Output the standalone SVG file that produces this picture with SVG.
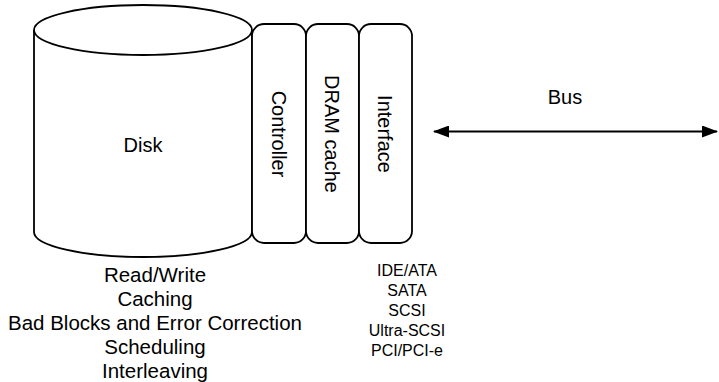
<svg xmlns="http://www.w3.org/2000/svg" width="719" height="382" viewBox="0 0 719 382">
<style>
.shape{fill:#fff;stroke:#000;stroke-width:1.8}
.lbl{font-family:"Liberation Sans",Arial,Helvetica,sans-serif;font-size:20px;fill:#000;text-anchor:middle}
.big{font-size:20.5px}
.small{font-size:16px}
.conn{stroke:#000;stroke-width:2;fill:none}
</style>
<defs>
<marker id="ah" viewBox="0 0 16 12" refX="15" refY="6" markerWidth="16" markerHeight="12" markerUnits="userSpaceOnUse" orient="auto-start-reverse">
<path d="M0,0 L16,6 L0,12 z" fill="#000"/>
</marker>
</defs>
<rect width="719" height="382" fill="#fff"/>
<g id="disk">
<path class="shape" d="M34,30 L34,232 A109,25 0 0 0 252,232 L252,30"/>
<ellipse class="shape" cx="143" cy="30" rx="109" ry="25"/>
<text class="lbl" x="143" y="152">Disk</text>
</g>
<g id="controller">
<rect class="shape" x="252" y="24" width="54" height="219" rx="12"/>
<text class="lbl" transform="translate(272,134) rotate(90)">Controller</text>
</g>
<g id="dram">
<rect class="shape" x="306" y="24" width="53" height="219" rx="12"/>
<text class="lbl" transform="translate(325,134) rotate(90)">DRAM cache</text>
</g>
<g id="interface">
<rect class="shape" x="359" y="24" width="53" height="219" rx="12"/>
<text class="lbl" transform="translate(378,134) rotate(90)">Interface</text>
</g>
<g id="connectors">
<line class="conn" x1="434" y1="131.5" x2="717" y2="131.5" marker-start="url(#ah)" marker-end="url(#ah)"/>
</g>
<g id="bus-label">
<text class="lbl" x="565" y="104">Bus</text>
</g>
<g id="disk-functions">
<text class="lbl big" x="155" y="282">Read/Write</text>
<text class="lbl big" x="155" y="306">Caching</text>
<text class="lbl big" x="155" y="330">Bad Blocks and Error Correction</text>
<text class="lbl big" x="155" y="354">Scheduling</text>
<text class="lbl big" x="155" y="378">Interleaving</text>
</g>
<g id="interfaces">
<text class="lbl small" x="407" y="276">IDE/ATA</text>
<text class="lbl small" x="407" y="296">SATA</text>
<text class="lbl small" x="407" y="316">SCSI</text>
<text class="lbl small" x="407" y="336">Ultra-SCSI</text>
<text class="lbl small" x="407" y="356">PCI/PCI-e</text>
</g>
</svg>
